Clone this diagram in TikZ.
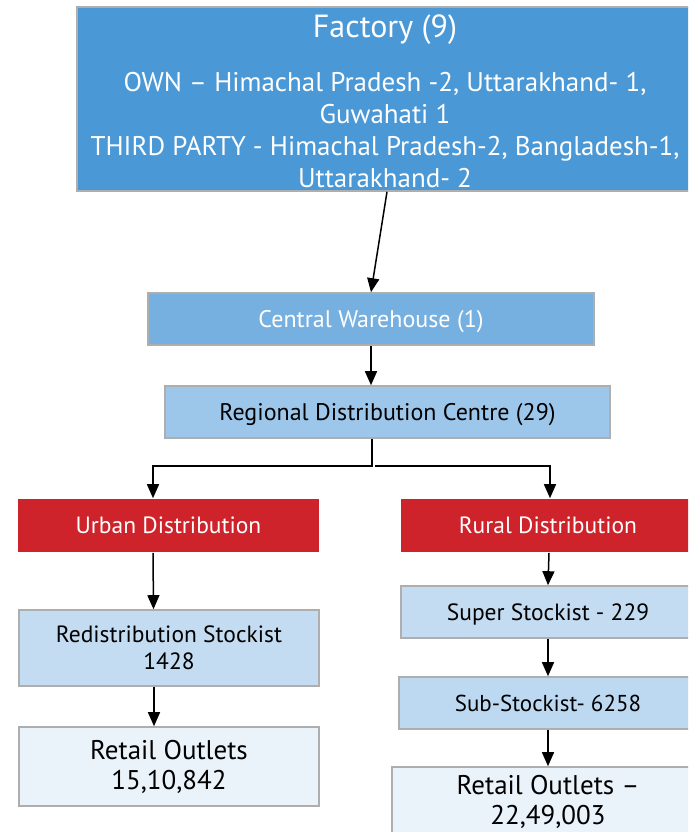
\documentclass[tikz,border=0pt]{standalone}
\usepackage{fontspec}
\setmainfont{PT Sans}
\usetikzlibrary{arrows.meta}
\definecolor{facblue}{HTML}{4A98D6}
\definecolor{cwblue}{HTML}{76B0E0}
\definecolor{rdcblue}{HTML}{9DC7EA}
\definecolor{redbox}{HTML}{CF232B}
\definecolor{lightbox}{HTML}{C4DCF1}
\definecolor{subbox}{HTML}{BCD9F1}
\definecolor{palebox}{HTML}{EAF2FA}
\definecolor{edgegray}{HTML}{AEAEAE}
\tikzset{
  x=1pt, y=-1pt,
  boxbase/.style={draw=edgegray, line width=1.6pt, inner sep=0pt, align=center, anchor=center},
  oneline/.style={text height=#1, text depth=0pt},
  facbox/.style={boxbase, fill=facblue, text=white},
  cwbox/.style={boxbase, fill=cwblue, text=white, font=\fontsize{24}{28}\selectfont, oneline=16.8pt},
  rdcbox/.style={boxbase, fill=rdcblue, text=black, font=\fontsize{24}{28}\selectfont, oneline=16.8pt},
  redbox/.style={boxbase, draw=none, fill=redbox, text=white, font=\fontsize{23.5}{28}\selectfont, oneline=16.5pt},
  lbox/.style={boxbase, fill=lightbox, text=black, font=\fontsize{23.5}{27}\selectfont},
  sbox/.style={boxbase, fill=subbox, text=black, font=\fontsize{23}{27}\selectfont, oneline=16.1pt},
  pbox/.style={boxbase, fill=palebox, text=black, font=\fontsize{27}{30}\selectfont},
  arr/.style={draw=black, line width=1.5pt, -{Triangle[width=12pt,length=14pt]}}
}
\begin{document}
\begin{tikzpicture}
\useasboundingbox (0,0) rectangle (688,832);
\clip (0,0) rectangle (688,832);
\fill[white] (0,0) rectangle (688,832);

\node[facbox, minimum width=616pt, minimum height=184pt, font=\fontsize{27}{32}\selectfont] (fac) at (385,99)
 {\fontsize{32}{32}\selectfont\rule{0pt}{27pt}Factory (9)\\[22pt]
  \fontsize{27}{32}\selectfont OWN -- Himachal Pradesh -2, Uttarakhand- 1,\\ Guwahati 1\\
   THIRD PARTY - Himachal Pradesh-2, Bangladesh-1,\\ Uttarakhand- 2};

\node[cwbox, minimum width=446pt, minimum height=52pt] (cw) at (371,319) {Central Warehouse (1)};
\node[rdcbox, minimum width=445pt, minimum height=52pt] (rdc) at (387.5,412) {Regional Distribution Centre (29)};

\node[redbox, minimum width=301pt, minimum height=53pt] (urb) at (168.5,525.5) {Urban Distribution};
\node[redbox, minimum width=294pt, minimum height=53pt] (rur) at (548,525.5) {Rural Distribution};

\node[lbox, minimum width=300pt, minimum height=76pt] (rs) at (169,648) {Redistribution Stockist\\1428};
\node[pbox, minimum width=300pt, minimum height=79pt] (ro1) at (169,766.5) {Retail Outlets\\15,10,842};

\node[lbox, oneline=16.5pt, minimum width=294pt, minimum height=52pt] (ss) at (548,612) {Super Stockist - 229};
\node[sbox, minimum width=298pt, minimum height=52pt] (sub) at (548,703) {Sub-Stockist- 6258};
\node[pbox, minimum width=312pt, minimum height=70pt, font=\fontsize{27}{29.5}\selectfont] (ro2) at (548,802) {Retail Outlets --\\22,49,003};

\draw[arr] ([xshift=2pt]fac.south) -- (cw.north);
\draw[arr] (cw.south) -- (cw.south |- rdc.north);
\draw[arr] ([xshift=-15.5pt]rdc.south) -- ++(0,27) -| ([xshift=-15.5pt]urb.north);
\draw[arr] ([xshift=-12.5pt,yshift=-27pt]rdc.south) -| ([xshift=2pt]rur.north);
\draw[arr] ([xshift=-15.5pt]urb.south) -- ([xshift=-15.5pt]rs.north);
\draw[arr] ([xshift=-15pt]rs.south) -- ([xshift=-15pt]ro1.north);
\draw[arr] ([xshift=1pt]rur.south) -- (ss.north);
\draw[arr] (ss.south) -- (sub.north);
\draw[arr] (sub.south) -- (ro2.north);
\end{tikzpicture}
\end{document}
